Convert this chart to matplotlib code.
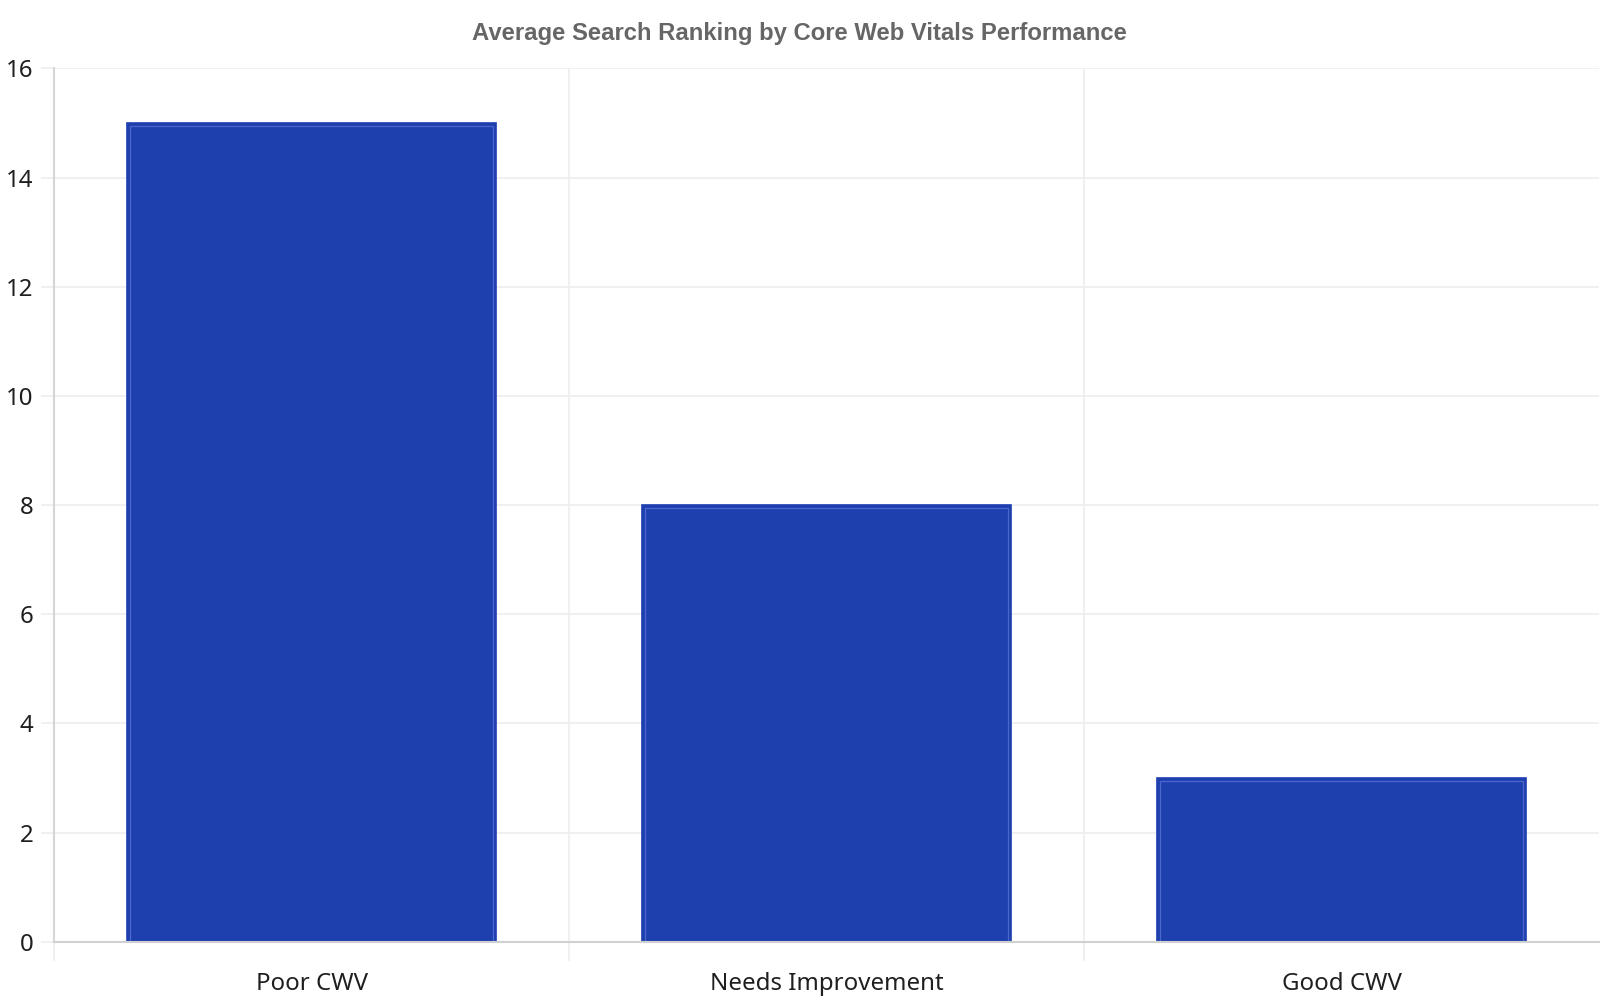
import matplotlib
matplotlib.use("Agg")
import matplotlib.pyplot as plt
import numpy as np

categories = ["Poor CWV", "Needs Improvement", "Good CWV"]
values = [15, 8, 3]
yticks = [0, 2, 4, 6, 8, 10, 12, 14, 16]

title = "Average Search Ranking by Core Web Vitals Performance"

W, H = 1568.0, 980.0  # reference measurement frame
fig = plt.figure(figsize=(16, 10), dpi=100)
ax = fig.add_axes([53/W, 1 - 923/H, (1567-53)/W, (923-67)/H])

x = np.arange(len(categories))
bw = 0.717
ax.bar(x, values, width=bw, color="#1e40af", edgecolor="#1e3fb0", linewidth=1.2, zorder=3)
# faint inner outline
ax.bar(x, [v - 0.06 for v in values], width=bw - 0.012, color="none",
       edgecolor="#4b67c9", linewidth=0.9, zorder=4)

ax.set_xlim(-0.5, len(categories) - 0.5)
ax.set_ylim(0, 16)
ax.set_yticks(yticks)
ax.set_yticklabels([str(t) for t in yticks])
ax.set_xticks(x)
ax.set_xticklabels(categories)
ax.tick_params(axis="x", length=0, pad=22, labelsize=17.3, labelcolor="#1f1f1f")
ax.tick_params(axis="y", length=9.5, color="#eeeeee", width=1.2, pad=5.5, labelsize=17.3, labelcolor="#1f1f1f")
for lab in ax.get_xticklabels() + ax.get_yticklabels():
    lab.set_fontfamily("Noto Sans")

# horizontal grid
for t in yticks[1:]:
    ax.axhline(t, color="#eeeeee", linewidth=1.2, zorder=1)
# vertical category boundary lines and ticks
bounds = np.arange(len(categories) + 1) - 0.5
for b in bounds[1:-1]:
    ax.axvline(b, color="#eeeeee", linewidth=1.2, zorder=1)
for b in bounds[:-1]:
    ax.plot([b, b], [0, -0.33], color="#eeeeee", linewidth=1.2, clip_on=False, zorder=1)

for s in ["top", "right"]:
    ax.spines[s].set_visible(False)
ax.spines["left"].set_color("#d6d6d6")
ax.spines["left"].set_linewidth(1.5)
ax.spines["bottom"].set_color("#d0d0d0")
ax.spines["bottom"].set_linewidth(1.5)
ax.spines["bottom"].set_zorder(5)

fig.text(783/W, 1 - 33/H, title, ha="center", va="center", fontsize=17.2,
         fontweight="bold", color="#666666", fontfamily="Liberation Sans")

fig.savefig("out.png", dpi=100, facecolor="white")
